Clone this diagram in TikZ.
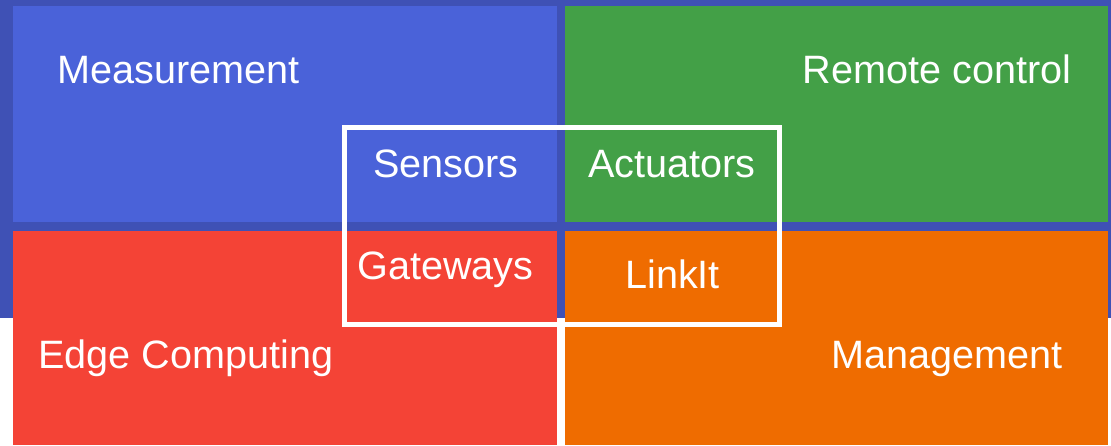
\documentclass[tikz,border=0pt]{standalone}
\usepackage{fontspec}
\setmainfont{Liberation Sans}
\definecolor{bgblue}{HTML}{3F51B5}
\definecolor{qblue}{HTML}{4A62D9}
\definecolor{qgreen}{HTML}{43A047}
\definecolor{qred}{HTML}{F44336}
\definecolor{qorange}{HTML}{EF6C00}
\begin{document}
\begin{tikzpicture}[x=1pt,y=-1pt,
  lbl/.style={text=white,inner sep=0pt,font=\fontsize{39.6}{44}\selectfont},
  frame/.style={draw=white,line width=5pt}]
\useasboundingbox (0,0) rectangle (1111,445);
\fill[white] (0,0) rectangle (1111,445);
\fill[bgblue] (0,0) rectangle (1111,318);
\fill[qblue] (13,6) rectangle (557,222);
\fill[qgreen] (565,6) rectangle (1108,222);
\fill[qred] (13,231) rectangle (557,445);
\fill[qorange] (565,231) rectangle (1108,445);
\draw[frame] (344,127.5) rectangle (779.5,324.5);
\node[lbl,anchor=base west] (meas) at (57.5,83.5) {Measurement};
\node[lbl,anchor=base east] (remote) at (1071.5,83.5) {Remote control};
\node[lbl,anchor=base west] (sens) at (373,177.5) {Sensors};
\node[lbl,anchor=base west] (act) at (588,177.5) {Actuators};
\node[lbl,anchor=base west] (gate) at (357,279) {Gateways};
\node[lbl,anchor=base west] (link) at (625,288) {LinkIt};
\node[lbl,anchor=base west] (edge) at (38,368) {Edge Computing};
\node[lbl,anchor=base east] (mgmt) at (1063,368) {Management};
\end{tikzpicture}
\end{document}
